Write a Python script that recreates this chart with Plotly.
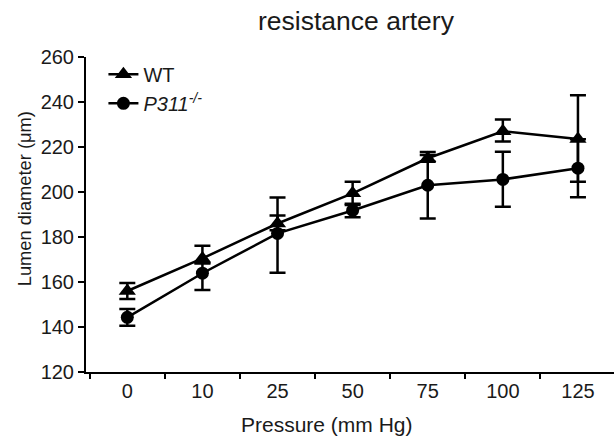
import plotly.graph_objects as go

pressure = ["0", "10", "25", "50", "75", "100", "125"]
wt_mean = [156.0, 170.5, 186.0, 199.4, 215.0, 227.0, 223.6]
wt_err_plus = [3.6, 5.6, 11.6, 5.2, 1.5, 5.2, 19.4]
wt_err_minus = [3.6, 2.2, 3.0, 5.2, 1.5, 4.6, 19.0]
ko_mean = [144.3, 163.9, 181.6, 191.8, 203.0, 205.6, 210.6]
ko_err_plus = [3.7, 4.4, 8.0, 3.0, 14.8, 12.3, 12.9]
ko_err_minus = [3.7, 7.5, 17.5, 3.0, 14.8, 12.1, 12.9]

FONT = "Liberation Sans, Arial, sans-serif"
TXT = "#1a1a1a"

fig = go.Figure()
fig.add_trace(go.Scatter(
    x=pressure, y=wt_mean, name="WT", mode="lines+markers",
    line=dict(color="black", width=2.5),
    marker=dict(symbol="triangle-up", size=15, color="black"),
    error_y=dict(type="data", symmetric=False, array=wt_err_plus, arrayminus=wt_err_minus,
                 color="black", thickness=2.5, width=8),
))
fig.add_trace(go.Scatter(
    x=pressure, y=ko_mean, name="<i>P311<sup>-/-</sup></i>", mode="lines+markers",
    line=dict(color="black", width=2.5),
    marker=dict(symbol="circle", size=13, color="black"),
    error_y=dict(type="data", symmetric=False, array=ko_err_plus, arrayminus=ko_err_minus,
                 color="black", thickness=2.5, width=8),
))

fig.update_layout(
    width=614, height=442,
    margin=dict(l=86, r=0, t=57, b=70),
    paper_bgcolor="white", plot_bgcolor="white",
    font=dict(family=FONT, size=20, color=TXT),
    showlegend=True,
    legend=dict(x=0.033, y=1.007, xanchor="left", yanchor="top",
                font=dict(family=FONT, size=20, color=TXT),
                bgcolor="rgba(0,0,0,0)", tracegroupgap=0),
    xaxis=dict(type="category", range=[-0.55, 6.48], tickson="boundaries",
               showline=True, linecolor="black", linewidth=2,
               ticks="outside", ticklen=5, tickwidth=2, tickcolor="black",
               showgrid=False, zeroline=False,
               tickfont=dict(family=FONT, size=20, color=TXT)),
    yaxis=dict(range=[120, 260], tickmode="array",
               tickvals=[120, 140, 160, 180, 200, 220, 240, 260],
               showline=True, linecolor="black", linewidth=2,
               ticks="outside", ticklen=6, tickwidth=2, tickcolor="black",
               showgrid=False, zeroline=False,
               tickfont=dict(family=FONT, size=20, color=TXT)),
    annotations=[
        dict(text="resistance artery", xref="paper", yref="paper", x=0.513, y=1.113,
             xanchor="center", yanchor="middle", showarrow=False,
             font=dict(family=FONT, size=26.5, color=TXT)),
        dict(text="Pressure (mm Hg)", xref="paper", yref="paper", x=0.456, y=-0.168,
             xanchor="center", yanchor="middle", showarrow=False,
             font=dict(family=FONT, size=21, color=TXT)),
        dict(text="Lumen diameter (μm)", xref="paper", yref="paper", x=-0.117, y=0.549,
             xanchor="center", yanchor="middle", showarrow=False, textangle=-90,
             font=dict(family=FONT, size=18.3, color=TXT)),
    ],
)

fig.write_html("out.html", config={"displayModeBar": False},
               post_script="document.body.style.margin='0';document.body.style.overflow='hidden';")
